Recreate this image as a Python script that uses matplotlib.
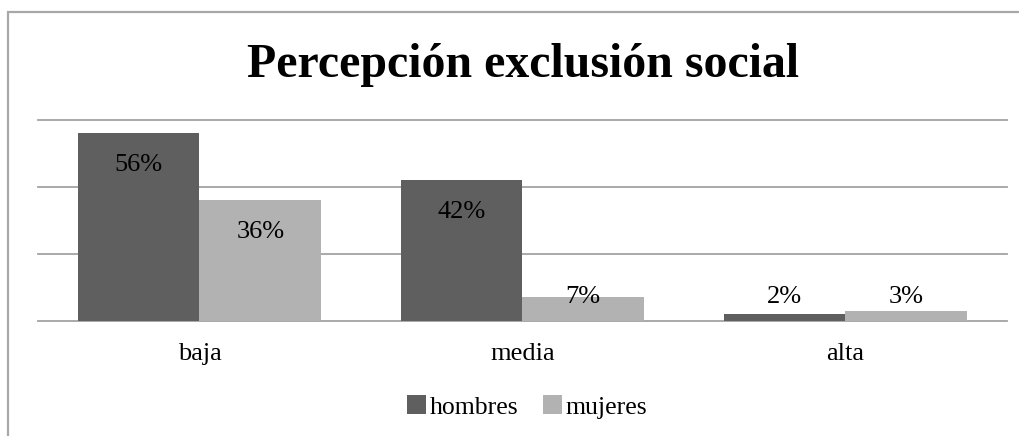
import matplotlib

matplotlib.use("Agg")
import matplotlib.patches as mpatches
import matplotlib.pyplot as plt
import numpy as np

# ---- data -------------------------------------------------------------------
categories = ["baja", "media", "alta"]
hombres = [56, 42, 2]
mujeres = [36, 7, 3]
series_names = ["hombres", "mujeres"]

# ---- style ------------------------------------------------------------------
DARK = "#5f5f5f"
LIGHT = "#b2b2b2"
GRID = "#a3a3a3"
BORDER = "#a8a8a8"
SERIF = ["Liberation Serif", "DejaVu Serif"]

plt.rcParams["font.family"] = SERIF

W, H = 1020, 436
fig = plt.figure(figsize=(W / 100, H / 100), dpi=100)
fig.patch.set_facecolor("white")

# chart-area border (only left and top edges fall inside the crop)
fig.add_artist(mpatches.Rectangle(
    (8.5 / W, -0.2), 1.5, 1.2 - 12 / H, transform=fig.transFigure,
    fill=False, edgecolor=BORDER, linewidth=1.6,
))

ax = fig.add_axes((38 / W, (H - 320.7) / H, 968.7 / W, 200.7 / H))
ax.set_xlim(-0.5, 2.5)
ax.set_ylim(0, 60)
ax.axis("off")

for g in (0, 20, 40, 60):
    ax.axhline(g, color=GRID, lw=1.3, zorder=1, clip_on=False)

x = np.arange(len(categories))
bw = 0.377
b1 = ax.bar(x - bw / 2, hombres, width=bw, color=DARK, zorder=2, label=series_names[0])
b2 = ax.bar(x + bw / 2, mujeres, width=bw, color=LIGHT, zorder=2, label=series_names[1])

# value labels: inside end, pushed up to a floor for short bars
for xs, vals in ((x - bw / 2, hombres), (x + bw / 2, mujeres)):
    for xi, v in zip(xs, vals):
        ax.text(xi, max(v - 9.4, 7.2), f"{v}%", ha="center", va="center",
                fontsize=19, color="black", zorder=3)

for xi, c in zip(x, categories):
    ax.text(xi, -0.196, c, transform=ax.get_xaxis_transform(), ha="center",
            va="baseline", fontsize=19, color="black")

fig.text(523.5 / W, 1 - 76.7 / H, "Percepción exclusión social", ha="center", va="baseline",
         fontsize=34.5, fontweight="bold", color="black")

fig.legend(handles=[b1, b2], labels=series_names, loc="center", ncol=2,
           bbox_to_anchor=(0.517, 1 - 407 / H), frameon=False, fontsize=18.5,
           handlelength=0.74, handleheight=0.74, handletextpad=0.15, columnspacing=0.95)

fig.savefig("out.png", dpi=100, facecolor="white")
